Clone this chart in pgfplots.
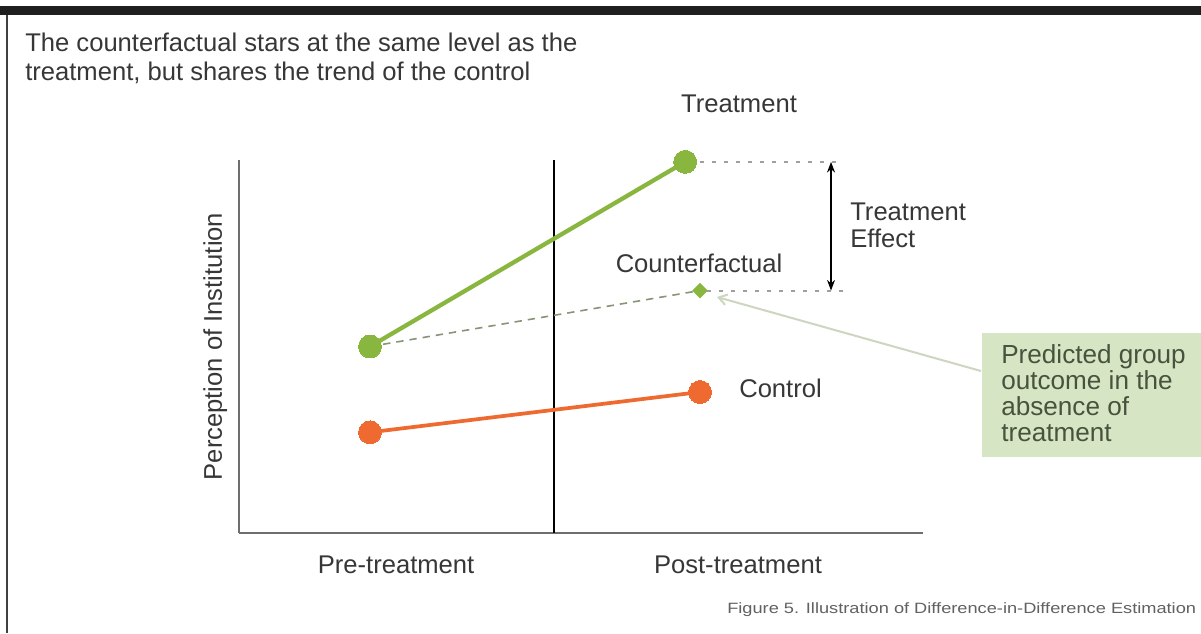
\documentclass[border=0pt]{standalone}
\usepackage{pgfplots}
\pgfplotsset{compat=1.18}
\usepackage{graphicx}
\usepackage{fontspec}
\setmainfont{Liberation Sans}
\usetikzlibrary{arrows.meta}
\definecolor{tgreen}{RGB}{137,182,62}
\definecolor{corange}{RGB}{239,106,48}
\definecolor{cfline}{RGB}{135,148,118}
\definecolor{boxgreen}{RGB}{214,230,196}
\definecolor{txt}{RGB}{55,55,55}
\definecolor{boxtxt}{RGB}{72,82,60}
\definecolor{axgray}{RGB}{110,110,110}
\definecolor{arrowgray}{RGB}{205,214,192}
\newcommand{\fs}{\fontsize{19.2}{23}\selectfont}
\begin{document}
\begin{tikzpicture}
\begin{scope}[x=0.75pt,y=-0.75pt]
\path[use as bounding box] (0,0) rectangle (1201,633);
\fill[white] (0,0) rectangle (1201,633);
\fill[black!88] (0,6) rectangle (1201,15);
\draw[black!75, line width=1.5pt] (7,15) -- (7,633);
\fill[boxgreen] (982,333) rectangle (1201,457);
\draw[arrowgray, line width=1.5pt, -{Straight Barb[length=6pt,width=8pt]}] (981,371) -- (717,297);
\end{scope}

\begin{axis}[at={(179.25pt,-399.75pt)}, anchor=south west, scale only axis,
  width=513pt, height=279.75pt,
  xmin=-0.39697, xmax=1.67576, ymin=0, ymax=10,
  axis x line=bottom, axis y line=left,
  axis line style={-, draw=axgray, line width=1.5pt},
  xtick={0.079,1.115}, xticklabels={Pre-treatment,Post-treatment},
  ytick=\empty, major tick length=0pt,
  xticklabel style={anchor=base, yshift=-30pt, font=\fs, text=txt, inner sep=0pt},
  ylabel={Perception of Institution},
  ylabel style={at={(axis description cs:-0.0249,0.5)}, anchor=base, font=\fs, text=txt, inner sep=0pt},
  clip=false]
\draw[black, line width=1pt] (axis cs:0.558,0) -- (axis cs:0.558,10);
% dotted reference lines and effect arrow
\draw[gray!75, line width=1.5pt, dash pattern=on 3pt off 6pt] (axis cs:1.0,9.95) -- (axis cs:1.433,9.95);
\draw[gray!75, line width=1.5pt, dash pattern=on 3pt off 6pt] (axis cs:1.02,6.5) -- (axis cs:1.433,6.5);
\draw[black, line width=1.1pt, {Stealth[length=8pt,width=6pt]}-{Stealth[length=8pt,width=6pt]}] (axis cs:1.397,9.95) -- (axis cs:1.397,6.5);
% counterfactual
\addplot[cfline, line width=1.2pt, dash pattern=on 5.5pt off 4.5pt, mark=square*, mark size=3.5pt,
  mark options={solid, rotate=45, fill=tgreen, draw=tgreen}, mark indices={2}] coordinates {(0,5.0) (1,6.5)};
% treatment
\addplot[tgreen, line width=3.2pt, mark=*, mark size=8.6pt, mark options={fill=tgreen, draw=tgreen, line width=0pt}]
  coordinates {(0,5.0) (0.955,9.95)};
% control
\addplot[corange, line width=2.8pt, mark=*, mark size=8.6pt, mark options={fill=corange, draw=corange, line width=0pt}]
  coordinates {(0,2.7) (1,3.78)};
\end{axis}

\begin{scope}[x=0.75pt,y=-0.75pt, every node/.style={inner sep=0pt, text=txt, font=\fs}]
\node[anchor=base west] at (25,51) {The counterfactual stars at the same level as the};
\node[anchor=base west] at (25,80) {treatment, but shares the trend of the control};
\node[anchor=base] at (739,112) {Treatment};
\node[anchor=base] at (699,272) {Counterfactual};
\node[anchor=base west] at (850,220) {Treatment};
\node[anchor=base west] at (850,247) {Effect};
\node[anchor=base west] at (739,397) {Control};
\node[anchor=base west, text=boxtxt, font=\fontsize{19.6}{23}\selectfont] at (1001,363) {Predicted group};
\node[anchor=base west, text=boxtxt, font=\fontsize{19.6}{23}\selectfont] at (1001,389) {outcome in the};
\node[anchor=base west, text=boxtxt, font=\fontsize{19.6}{23}\selectfont] at (1001,415) {absence of};
\node[anchor=base west, text=boxtxt, font=\fontsize{19.6}{23}\selectfont] at (1001,441) {treatment};
\node[anchor=base west, text=black!62, font=\fontsize{11.2}{13}\selectfont] at (727,613) {\scalebox{1.22}[1]{Figure 5. Illustration of Difference-in-Difference Estimation}};
\end{scope}
\end{tikzpicture}
\end{document}
